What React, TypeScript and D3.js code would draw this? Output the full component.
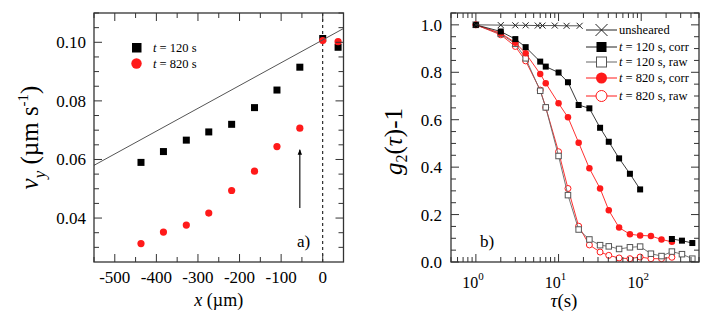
import * as d3 from 'd3';

// panel a) velocity profile
const xPos = [-437, -383, -328, -274, -219, -164, -110, -55, 0, 37];
const v120 = [0.059, 0.0627, 0.0666, 0.0694, 0.072, 0.0777, 0.0837, 0.0915, 0.1013, 0.0983];
const v820 = [0.0313, 0.0352, 0.0376, 0.0417, 0.0494, 0.056, 0.0644, 0.0707, 0.1006, 0.1002];
const fitX = [-550, 50];
const fitY = [0.058, 0.1047];
const arrowX = -55;
const arrowY = [0.0434, 0.0633];
const xTicksA = [-500, -400, -300, -200, -100, 0];
const yTicksA = [0.04, 0.06, 0.08, 0.1];

// panel b) correlation functions
const tau = [1, 2, 3, 4, 6, 7, 10, 13, 17.5, 23.6, 31.8, 40.5, 54, 73, 97, 131, 176, 235, 311, 415];
const corr120 = [1.0, 0.972, 0.94, 0.906, 0.845, 0.824, 0.799, 0.758, 0.662, 0.648, 0.566, 0.507, 0.437, 0.372, 0.306, null, null, 0.097, 0.09, 0.08];
const raw120 = [1.0, 0.962, 0.92, 0.859, 0.722, 0.652, 0.447, 0.282, 0.137, 0.095, 0.071, 0.066, 0.055, 0.062, 0.065, 0.035, 0.025, 0.044, 0.033, 0.014];
const corr820 = [1.0, 0.965, 0.925, 0.88, 0.793, 0.754, 0.669, 0.61, 0.503, 0.395, 0.31, 0.218, 0.145, 0.117, 0.112, 0.11, 0.095, 0.085, null, null];
const raw820 = [1.0, 0.958, 0.909, 0.848, 0.725, 0.652, 0.465, 0.31, 0.151, 0.072, 0.042, 0.028, 0.017, 0.014, 0.021, 0.014, 0.014, 0.02, null, null];
const tauUnsheared = [1, 2, 3, 4, 5.6, 6.4, 9, 12.5, 18];
const unsheared = [1.0, 0.999, 0.998, 0.998, 0.997, 0.997, 0.997, 0.996, 0.996];
const yTicksB = [0, 0.2, 0.4, 0.6, 0.8, 1.0];
const xDecades = [0, 1, 2];
const legendB = ['unsheared', 't = 120 s, corr', 't = 120 s, raw', 't = 820 s, corr', 't = 820 s, raw'];

const FONT = 'Liberation Serif, Times New Roman, Times, DejaVu Serif, serif';
const RED = '#ff1a1a';
const FRAME = '#333';

type Pt = { x: number; y: number | null };

function Ticks({ vals, scale, orient, y0, y1, x0, x1, isMajor }: any) {
  return (
    <g stroke={FRAME} strokeWidth={1}>
      {vals.map((v: number, i: number) => {
        const L = isMajor(v) ? 8 : 5;
        const p = scale(v);
        if (orient === 'x')
          return (
            <g key={i}>
              <line x1={p} x2={p} y1={y1} y2={y1 - L} />
              <line x1={p} x2={p} y1={y0} y2={y0 + L} />
            </g>
          );
        return (
          <g key={i}>
            <line x1={x0} x2={x0 + L} y1={p} y2={p} />
            <line x1={x1} x2={x1 - L} y1={p} y2={p} />
          </g>
        );
      })}
    </g>
  );
}

function PanelA() {
  const x = d3.scaleLinear().domain([-550, 50]).range([94, 343.5]);
  const y = d3.scaleLinear().domain([0.025, 0.11]).range([262, 13]);
  const [x0, x1] = x.range();
  const [y1, y0] = y.range();
  const xMinor = d3.range(-550, 51, 50);
  const yMinor = d3.range(0.03, 0.1101, 0.005);
  const fmt = d3.format('.2f');
  const fit = d3.line<number>().x((d) => x(d)).y((_, i) => y(fitY[i]));

  return (
    <g style={{ fontFamily: FONT }}>
      <line x1={x(0)} x2={x(0)} y1={y0} y2={y1} stroke="#000" strokeWidth={1} strokeDasharray="3 3" />
      <defs>
        <marker id="arrowhead" viewBox="0 0 10 10" refX="9" refY="5" markerWidth="5" markerHeight="7" orient="auto">
          <path d="M0,1 L10,5 L0,9 z" fill="#000" />
        </marker>
      </defs>
      <line
        x1={x(arrowX)}
        x2={x(arrowX)}
        y1={y(arrowY[0])}
        y2={y(arrowY[1])}
        stroke="#000"
        strokeWidth={1.1}
        markerEnd="url(#arrowhead)"
      />
      {xPos.map((d, i) => (
        <rect key={`s${i}`} x={x(d) - 3.5} y={y(v120[i]) - 3.5} width={7} height={7} fill="#000" />
      ))}
      {xPos.map((d, i) => (
        <circle key={`c${i}`} cx={x(d)} cy={y(v820[i])} r={3.6} fill={RED} />
      ))}
      <path d={fit(fitX) ?? ''} stroke="#555" strokeWidth={1} fill="none" />

      <rect x={x0} y={y0} width={x1 - x0} height={y1 - y0} fill="none" stroke={FRAME} strokeWidth={1.3} />
      <Ticks vals={xMinor} scale={x} orient="x" y0={y0} y1={y1} isMajor={(v: number) => v % 100 === 0} />
      <Ticks
        vals={yMinor}
        scale={y}
        orient="y"
        x0={x0}
        x1={x1}
        isMajor={(v: number) => Math.abs(Math.round(v * 50) - v * 50) < 1e-6}
      />

      {xTicksA.map((t) => (
        <text key={t} x={x(t)} y={283} textAnchor="middle" fontSize={17}>
          {t}
        </text>
      ))}
      {yTicksA.map((t) => (
        <text key={t} x={86} y={y(t) + 6} textAnchor="end" fontSize={17}>
          {fmt(t)}
        </text>
      ))}
      <text x={(x0 + x1) / 2} y={306} textAnchor="middle" fontSize={18}>
        <tspan fontStyle="italic">x</tspan> (µm)
      </text>
      <text transform={`translate(38,${(y0 + y1) / 2}) rotate(-90)`} textAnchor="middle" fontSize={25}>
        <tspan fontStyle="italic">v</tspan>
        <tspan fontStyle="italic" fontSize={17} dy={7}>y</tspan>
        <tspan dy={-7}> (µm s</tspan>
        <tspan fontSize={15} dy={-10}>-1</tspan>
        <tspan dy={10}>)</tspan>
      </text>
      <text x={297} y={247} fontSize={17}>a)</text>

      {/* legend */}
      <rect x={132} y={43} width={9.5} height={9.5} fill="#000" />
      <circle cx={136.5} cy={63.5} r={5.2} fill={RED} />
      <text x={153} y={52} fontSize={12.5}>
        <tspan fontStyle="italic">t</tspan> = 120 s
      </text>
      <text x={153} y={67.5} fontSize={12.5}>
        <tspan fontStyle="italic">t</tspan> = 820 s
      </text>
    </g>
  );
}

function Marker({ kind, cx, cy, s }: { kind: string; cx: number; cy: number; s: number }) {
  if (kind === 'x')
    return (
      <path
        d={`M${cx - s / 2},${cy - s / 2}L${cx + s / 2},${cy + s / 2}M${cx - s / 2},${cy + s / 2}L${cx + s / 2},${cy - s / 2}`}
        stroke="#222"
        strokeWidth={1}
      />
    );
  if (kind === 'sq') return <rect x={cx - s / 2} y={cy - s / 2} width={s} height={s} fill="#000" />;
  if (kind === 'osq')
    return <rect x={cx - s / 2} y={cy - s / 2} width={s} height={s} fill="#fff" stroke="#555" strokeWidth={1} />;
  if (kind === 'ci') return <circle cx={cx} cy={cy} r={s / 2} fill={RED} />;
  return <circle cx={cx} cy={cy} r={s / 2} fill="#fff" stroke={RED} strokeWidth={1} />;
}

function PanelB() {
  const x = d3.scaleLog().domain([0.5, 500]).range([451, 699]);
  const y = d3.scaleLinear().domain([0, 1.05]).range([262, 13]);
  const [x0, x1] = x.range();
  const [y1, y0] = y.range();
  const xMinor: number[] = [];
  [0.1, 1, 10, 100].forEach((dec) => {
    for (let k = 1; k < 10; k++) {
      const v = dec * k;
      if (v >= 0.5 && v <= 500) xMinor.push(v);
    }
  });
  const yMinor = d3.range(0, 1.051, 0.05);
  const fmt = d3.format('.1f');

  const line = d3
    .line<Pt>()
    .defined((d) => d.y !== null)
    .x((d) => x(d.x))
    .y((d) => y(d.y as number));

  const series = [
    { vals: raw820, kind: 'oci', stroke: RED, s: 6 },
    { vals: raw120, kind: 'osq', stroke: '#666', s: 5.5 },
    { vals: corr820, kind: 'ci', stroke: RED, s: 6.5 },
    { vals: corr120, kind: 'sq', stroke: '#222', s: 6 },
  ];
  const unPts = tauUnsheared.map((t, i) => ({ x: t, y: unsheared[i] }));

  const legendKinds = [
    { kind: 'x', stroke: '#222', s: 12 },
    { kind: 'sq', stroke: '#222', s: 10 },
    { kind: 'osq', stroke: '#666', s: 10 },
    { kind: 'ci', stroke: RED, s: 11 },
    { kind: 'oci', stroke: RED, s: 11 },
  ];
  const legendY = [30, 47, 62, 78, 96];

  return (
    <g style={{ fontFamily: FONT }}>
      {series.map((s, si) => {
        const pts = tau.map((t, i) => ({ x: t, y: s.vals[i] }));
        return (
          <g key={si}>
            <path d={line(pts) ?? ''} fill="none" stroke={s.stroke} strokeWidth={0.9} />
            {pts
              .filter((p) => p.y !== null)
              .map((p, i) => (
                <Marker key={i} kind={s.kind} cx={x(p.x)} cy={y(p.y as number)} s={s.s} />
              ))}
          </g>
        );
      })}
      <path d={line(unPts) ?? ''} fill="none" stroke="#444" strokeWidth={0.9} />
      {unPts.map((p, i) => (
        <Marker key={i} kind="x" cx={x(p.x)} cy={y(p.y as number)} s={6} />
      ))}

      <rect x={x0} y={y0} width={x1 - x0} height={y1 - y0} fill="none" stroke={FRAME} strokeWidth={1.3} />
      <Ticks
        vals={xMinor}
        scale={x}
        orient="x"
        y0={y0}
        y1={y1}
        isMajor={(v: number) => Math.abs(Math.log10(v) - Math.round(Math.log10(v))) < 1e-9}
      />
      <Ticks
        vals={yMinor}
        scale={y}
        orient="y"
        x0={x0}
        x1={x1}
        isMajor={(v: number) => Math.abs(Math.round(v * 5) - v * 5) < 1e-6}
      />

      {xDecades.map((d) => (
        <text key={d} x={x(Math.pow(10, d)) - 3} y={288} textAnchor="middle" fontSize={16}>
          10
          <tspan fontSize={11} dy={-8}>
            {d}
          </tspan>
        </text>
      ))}
      {yTicksB.map((t) => (
        <text key={t} x={442} y={y(t) + 6} textAnchor="end" fontSize={17}>
          {fmt(t)}
        </text>
      ))}
      <text x={(x0 + x1) / 2 - 11} y={307} textAnchor="middle" fontSize={19}>
        <tspan fontStyle="italic">τ</tspan>(s)
      </text>
      <text transform={`translate(402,${(y0 + y1) / 2 + 4}) rotate(-90)`} textAnchor="middle" fontSize={25}>
        <tspan fontStyle="italic">g</tspan>
        <tspan fontSize={16} dy={5}>2</tspan>
        <tspan dy={-5}>(</tspan>
        <tspan fontStyle="italic">τ</tspan>
        <tspan>)-1</tspan>
      </text>
      <text x={480} y={247} fontSize={17}>b)</text>

      {legendB.map((lab, i) => {
        const k = legendKinds[i];
        const ly = legendY[i];
        return (
          <g key={lab}>
            <line x1={586} x2={617} y1={ly} y2={ly} stroke={k.stroke} strokeWidth={1} />
            <Marker kind={k.kind} cx={601.5} cy={ly} s={k.s} />
            <text x={619} y={ly + 4} fontSize={12.5}>
              {i === 0 ? (
                lab
              ) : (
                <>
                  <tspan fontStyle="italic">t</tspan>
                  {lab.slice(1)}
                </>
              )}
            </text>
          </g>
        );
      })}
    </g>
  );
}

export default function App() {
  return (
    <div style={{ position: 'fixed', left: 0, top: 0 }}>
      <svg width={708} height={324} viewBox="0 0 708 324" style={{ display: 'block', background: '#fff' }}>
        <PanelA />
        <PanelB />
      </svg>
    </div>
  );
}
